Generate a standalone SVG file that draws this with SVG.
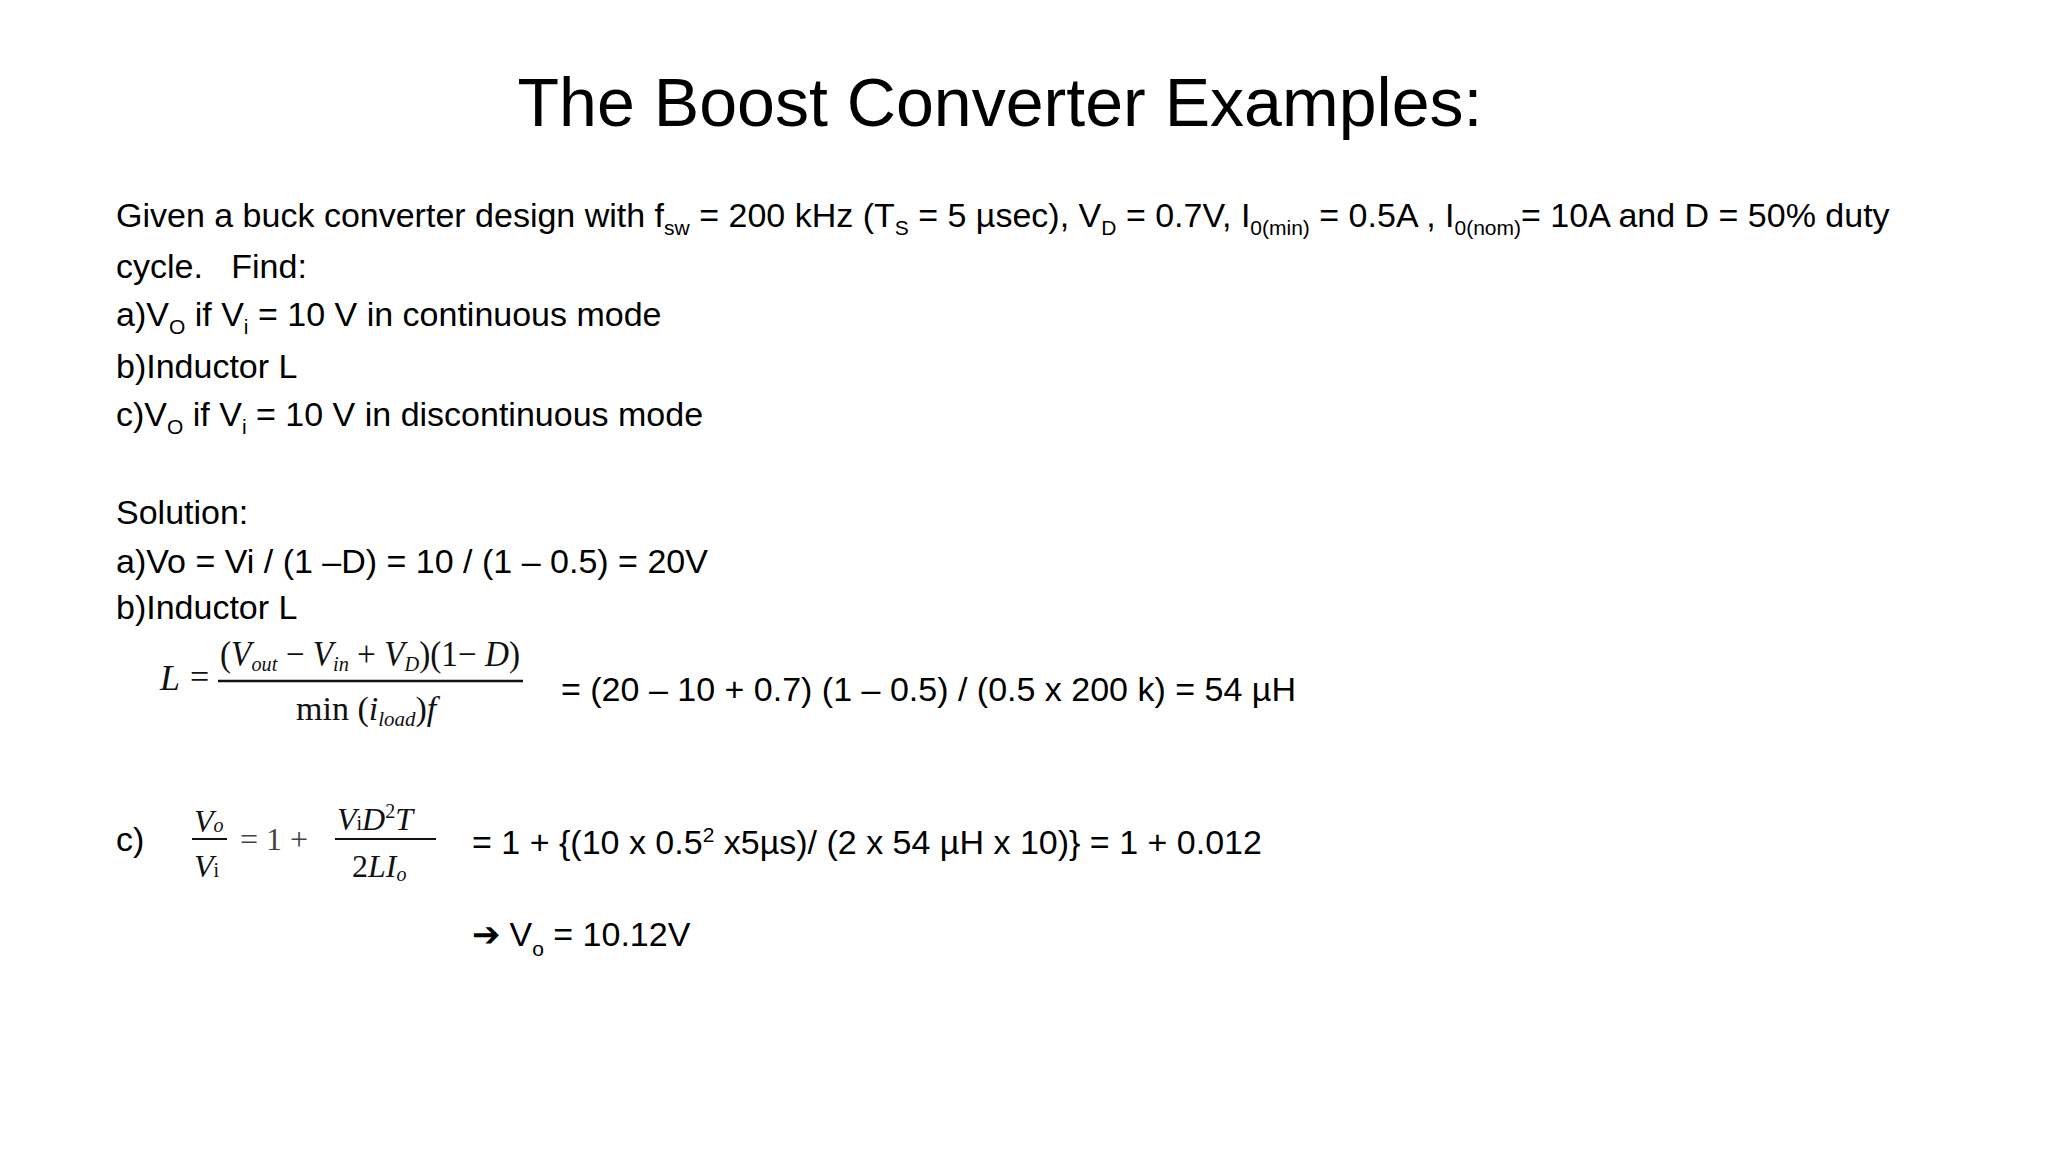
<svg xmlns="http://www.w3.org/2000/svg" width="2048" height="1152" viewBox="0 0 2048 1152">
<style>
.t{font-family:"Liberation Sans",Arial,sans-serif;font-size:34px;fill:#000}
.m{font-family:"Liberation Serif","Times New Roman",serif;fill:#111}
.s{font-size:21px}
</style>
<rect width="2048" height="1152" fill="#fff"/>
<g id="title"><text x="1000" y="126" text-anchor="middle" font-family="Liberation Sans,Arial,sans-serif" font-size="68" textLength="965" lengthAdjust="spacingAndGlyphs">The Boost Converter Examples:</text></g>
<g id="problem" class="t">
<text x="116" y="227" class="t">Given a buck converter design with f<tspan class="s" dy="8">sw</tspan><tspan dy="-8"> = 200 kHz (T</tspan><tspan class="s" dy="8">S</tspan><tspan dy="-8"> = 5 µsec), V</tspan><tspan class="s" dy="8">D</tspan><tspan dy="-8"> = 0.7V, I</tspan><tspan class="s" dy="8">0(min)</tspan><tspan dy="-8"> = 0.5A , I</tspan><tspan class="s" dy="8">0(nom)</tspan><tspan dy="-8">= 10A and D = 50% duty</tspan></text>
<text x="116" y="278" class="t">cycle.&#160;&#160; Find:</text>
<text x="116" y="326" class="t">a)V<tspan class="s" dy="8">O</tspan><tspan dy="-8"> if V</tspan><tspan class="s" dy="8">i</tspan><tspan dy="-8"> = 10 V in continuous mode</tspan></text>
<text x="116" y="378" class="t">b)Inductor L</text>
<text x="116" y="426" class="t">c)V<tspan class="s" dy="8">O</tspan><tspan dy="-8"> if V</tspan><tspan class="s" dy="8">i</tspan><tspan dy="-8"> = 10 V in discontinuous mode</tspan></text>
</g>
<g id="solution">
<text x="116" y="524" class="t">Solution:</text>
<text x="116" y="573" class="t">a)Vo = Vi / (1 –D) = 10 / (1 – 0.5) = 20V</text>
<text x="116" y="619" class="t">b)Inductor L</text>
<text x="561" y="701" class="t">= (20 – 10 + 0.7) (1 – 0.5) / (0.5 x 200 k) = 54 µH</text>
<text x="116" y="851" class="t">c)</text>
<text x="472" y="854" class="t">= 1 + {(10 x 0.5<tspan class="s" dy="-12">2</tspan><tspan dy="12"> x5µs)/ (2 x 54 µH x 10)} = 1 + 0.012</tspan></text>
<text x="472" y="946" class="t">➔ V<tspan class="s" dy="10">o</tspan><tspan dy="-10"> = 10.12V</tspan></text>
</g>
<g id="formulaL" class="m">
<text x="160" y="690" font-size="36" font-style="italic">L</text>
<text x="190" y="688" font-size="34">=</text>
<line x1="218" y1="681" x2="523" y2="681" stroke="#111" stroke-width="2.5"/>
<text x="220" y="666" font-size="36" textLength="300" lengthAdjust="spacingAndGlyphs"><tspan>(</tspan><tspan font-style="italic">V</tspan><tspan font-style="italic" font-size="22" dy="5">out</tspan><tspan dy="-5"> − </tspan><tspan font-style="italic">V</tspan><tspan font-style="italic" font-size="22" dy="5">in</tspan><tspan dy="-5"> + </tspan><tspan font-style="italic">V</tspan><tspan font-style="italic" font-size="22" dy="5">D</tspan><tspan dy="-5">)(1− </tspan><tspan font-style="italic">D</tspan><tspan>)</tspan></text>
<text x="296" y="720" font-size="34">min (<tspan font-style="italic">i</tspan><tspan font-style="italic" font-size="21" dy="6">load</tspan><tspan dy="-6">)</tspan><tspan font-style="italic">f</tspan></text>
</g>
<g id="formulaC" class="m">
<text x="194" y="832" font-size="32" font-style="italic">V<tspan font-size="20">o</tspan></text>
<line x1="192" y1="839" x2="227" y2="839" stroke="#111" stroke-width="2"/>
<text x="194" y="877" font-size="32" font-style="italic">V<tspan font-size="20" font-style="normal">i</tspan></text>
<text x="240" y="850" font-size="32" fill="#444">= 1 +</text>
<text x="337" y="830" font-size="32" font-style="italic">V<tspan font-size="20" font-style="normal">i</tspan>D<tspan font-size="20" font-style="normal" dy="-12">2</tspan><tspan dy="12">T</tspan></text>
<line x1="335" y1="839" x2="436" y2="839" stroke="#111" stroke-width="2"/>
<text x="352" y="877" font-size="32" font-style="italic"><tspan font-style="normal">2</tspan>LI<tspan font-size="20" dy="4">o</tspan></text>
</g>
</svg>
